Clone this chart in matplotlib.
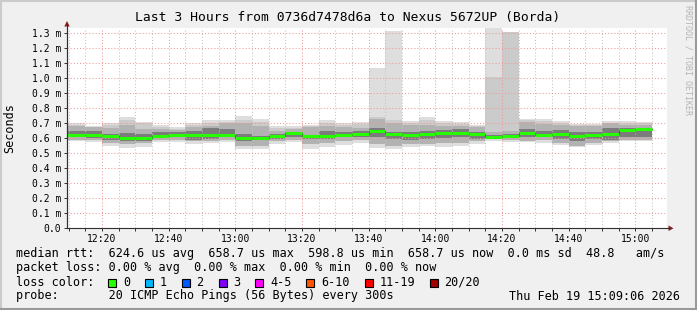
import numpy as np
import matplotlib.pyplot as plt
from matplotlib.patches import Rectangle, Polygon
from matplotlib.lines import Line2D

W, H = 697, 310

# 5 minute steps, minutes after 12:00 at which each step ends (12:15 .. 15:05)
step_end = np.arange(15, 186, 5)
graph_start = 9.5   # 12:09 (left edge of the graph)
graph_end = 189.5   # 15:09

# smoke / median per step, in milliseconds
median = [0.623, 0.623, 0.617, 0.601, 0.601, 0.617, 0.623, 0.623, 0.623, 0.623,
          0.599, 0.603, 0.615, 0.637, 0.615, 0.617, 0.623, 0.630, 0.650, 0.630,
          0.623, 0.630, 0.637, 0.637, 0.630, 0.610, 0.615, 0.637, 0.623, 0.630,
          0.617, 0.623, 0.630, 0.657, 0.659]
hi = [0.700, 0.683, 0.700, 0.743, 0.710, 0.688, 0.673, 0.700, 0.720, 0.723,
      0.746, 0.728, 0.681, 0.680, 0.688, 0.720, 0.700, 0.706, 1.068, 1.315,
      0.713, 0.743, 0.713, 0.706, 0.688, 1.360, 1.310, 0.728, 0.728, 0.713,
      0.695, 0.695, 0.713, 0.713, 0.706]
hi2 = [0.690, 0.678, 0.690, 0.720, 0.700, 0.675, 0.665, 0.690, 0.705, 0.710,
       0.720, 0.710, 0.670, 0.670, 0.680, 0.700, 0.690, 0.695, 0.740, 0.720,
       0.700, 0.720, 0.700, 0.695, 0.680, 1.010, 1.310, 0.720, 0.715, 0.700,
       0.690, 0.690, 0.705, 0.700, 0.700]
mid_hi = [0.680, 0.676, 0.668, 0.690, 0.661, 0.661, 0.655, 0.677, 0.684, 0.700,
          0.699, 0.684, 0.650, 0.661, 0.672, 0.684, 0.677, 0.672, 0.728, 0.699,
          0.690, 0.690, 0.684, 0.684, 0.677, 0.639, 0.650, 0.710, 0.695, 0.690,
          0.685, 0.685, 0.699, 0.690, 0.690]
core_hi = [0.650, 0.646, 0.628, 0.633, 0.628, 0.639, 0.639, 0.650, 0.668, 0.661,
           0.628, 0.617, 0.628, 0.639, 0.624, 0.650, 0.639, 0.646, 0.672, 0.639,
           0.639, 0.650, 0.655, 0.661, 0.639, 0.625, 0.630, 0.661, 0.650, 0.655,
           0.639, 0.639, 0.672, 0.672, 0.668]
core_lo = [0.606, 0.601, 0.588, 0.579, 0.583, 0.599, 0.606, 0.588, 0.595, 0.606,
           0.583, 0.588, 0.595, 0.606, 0.595, 0.595, 0.606, 0.606, 0.606, 0.595,
           0.588, 0.595, 0.601, 0.606, 0.595, 0.600, 0.600, 0.606, 0.606, 0.595,
           0.583, 0.595, 0.588, 0.606, 0.606]
mid_lo = [0.588, 0.588, 0.566, 0.561, 0.572, 0.588, 0.588, 0.579, 0.579, 0.588,
          0.550, 0.550, 0.579, 0.588, 0.561, 0.572, 0.579, 0.588, 0.560, 0.550,
          0.561, 0.561, 0.566, 0.572, 0.583, 0.595, 0.590, 0.583, 0.588, 0.572,
          0.550, 0.572, 0.579, 0.588, 0.588]
lo = [0.579, 0.577, 0.546, 0.535, 0.543, 0.577, 0.573, 0.561, 0.566, 0.577,
      0.528, 0.528, 0.561, 0.573, 0.528, 0.543, 0.557, 0.566, 0.533, 0.530,
      0.543, 0.550, 0.539, 0.550, 0.561, 0.583, 0.577, 0.573, 0.566, 0.557,
      0.539, 0.557, 0.566, 0.579, 0.579]

x_ticks = [20, 40, 60, 80, 100, 120, 140, 160, 180]
x_labels = ['12:20', '12:40', '13:00', '13:20', '13:40', '14:00', '14:20', '14:40', '15:00']
y_ticks = [i / 10 for i in range(14)]
y_labels = ['0.0'] + ['%.1f m' % v for v in y_ticks[1:]]

title = 'Last 3 Hours from 0736d7478d6a to Nexus 5672UP (Borda)'
rtt_line = 'median rtt:  624.6 us avg  658.7 us max  598.8 us min  658.7 us now  0.0 ms sd  48.8   am/s'
loss_line = 'packet loss: 0.00 % avg  0.00 % max  0.00 % min  0.00 % now'
probe_line = 'probe:       20 ICMP Echo Pings (56 Bytes) every 300s'
stamp = 'Thu Feb 19 15:09:06 2026'
loss_labels = ['0', '1', '2', '3', '4-5', '6-10', '11-19', '20/20']
loss_colors = ['#26ff00', '#00b8ff', '#0059ff', '#7e00ff', '#ff00ff', '#ff5500', '#ff0000', '#a00000']

plt.rcParams['font.family'] = ['DejaVu Sans Mono']
MONO = 8.5


def fx(x):
    return x / W


def fy(y):
    return 1 - y / H


fig = plt.figure(figsize=(W / 100, H / 100), dpi=100, facecolor='#f0f0f0')
ax = fig.add_axes([fx(67), fy(228.3), 600 / W, 200 / H])
ax.set_facecolor('white')

# bar edges
left = step_end - 5.0
left[0] = graph_start
width = step_end - left

def band(bottom, top, color):
    bottom = np.array(bottom)
    ax.bar(left, np.array(top) - bottom, width=width, bottom=bottom, align='edge',
           color=color, linewidth=0, zorder=1)

band(lo, hi, '#dedede')
band(mid_lo, hi2, '#cbcbcb')
band(mid_lo, mid_hi, '#b2b2b2')
band(core_lo, core_hi, '#7c7c7c')

# median: dark connecting step line plus green segments
ax.step(np.append(left, step_end[-1]), np.append(median, median[-1]), where='post',
        color='#303030', lw=0.7, zorder=2)
ax.hlines(median, left, step_end, color=loss_colors[0], lw=2.2, zorder=3)

ax.set_xlim(graph_start, graph_end)
ax.set_ylim(0, 200 / 150)

ax.set_xticks(x_ticks)
ax.set_xticklabels(x_labels, fontsize=7)
ax.set_xticks(np.arange(10, 190, 5), minor=True)
ax.set_yticks(y_ticks)
ax.set_yticklabels(y_labels, fontsize=7)

ax.grid(which='major', axis='both', color='#f09a9a', lw=0.75, linestyle=(0, (1, 2)))
ax.grid(which='minor', axis='x', color='#c4c4c4', lw=0.75, linestyle=(0, (1, 2)))
ax.tick_params(which='both', direction='out', length=2.2, width=0.7, color='#303030', pad=2)

for s in ['top', 'right']:
    ax.spines[s].set_visible(False)
for s in ['left', 'bottom']:
    ax.spines[s].set_color('#303030')
    ax.spines[s].set_linewidth(0.8)

# axis extensions and arrows
fig.add_artist(Line2D([fx(67), fx(67)], [fy(228.3), fy(24)], color='#303030', lw=0.8))
fig.add_artist(Line2D([fx(667), fx(670)], [fy(228.3), fy(228.3)], color='#303030', lw=0.8))
fig.add_artist(Polygon([(fx(64.3), fy(26.5)), (fx(69.7), fy(26.5)), (fx(67), fy(21))],
                       closed=True, color='#8b1a1a', lw=0))
fig.add_artist(Polygon([(fx(668.5), fy(225.5)), (fx(668.5), fy(231)), (fx(673.5), fy(228.3))],
                       closed=True, color='#8b1a1a', lw=0))

# frame shading
fig.add_artist(Line2D([0, 1], [fy(0.5), fy(0.5)], color='#cbcbcb', lw=1.5))
fig.add_artist(Line2D([fx(0.5), fx(0.5)], [0, 1], color='#cbcbcb', lw=1.5))
fig.add_artist(Line2D([0, 1], [fy(H - 1), fy(H - 1)], color='#999999', lw=1.5))
fig.add_artist(Line2D([fx(W - 1), fx(W - 1)], [0, 1], color='#999999', lw=1.5))

fig.text(fx(348), fy(18), title, fontsize=9.35, ha='center', va='center')
fig.text(fx(10), fy(128), 'Seconds', fontsize=8.5, rotation=90, ha='center', va='center')
fig.text(fx(688), fy(5), 'RRDTOOL / TOBI OETIKER', fontsize=6, rotation=270,
         ha='center', va='top', color='#b4b4b4')

fig.text(fx(16), fy(254), rtt_line, fontsize=MONO, va='center')
fig.text(fx(16), fy(268), loss_line, fontsize=MONO, va='center')
fig.text(fx(16), fy(282), 'loss color:', fontsize=MONO, va='center')
fig.text(fx(16), fy(296), probe_line, fontsize=MONO, va='center')
fig.text(fx(680), fy(296), stamp, fontsize=MONO, va='center', ha='right')

# loss colour legend boxes
bx = 108.3
for lab, col in zip(loss_labels, loss_colors):
    fig.add_artist(Rectangle((fx(bx), fy(286.5)), 8 / W, 8 / H, facecolor=col,
                             edgecolor='black', lw=0.8))
    fig.text(fx(bx + 14.7), fy(282), lab, fontsize=MONO, va='center')
    bx = bx + 14.7 + len(lab) * 7.1 + 15

fig.savefig('out.png', dpi=100, facecolor=fig.get_facecolor())
